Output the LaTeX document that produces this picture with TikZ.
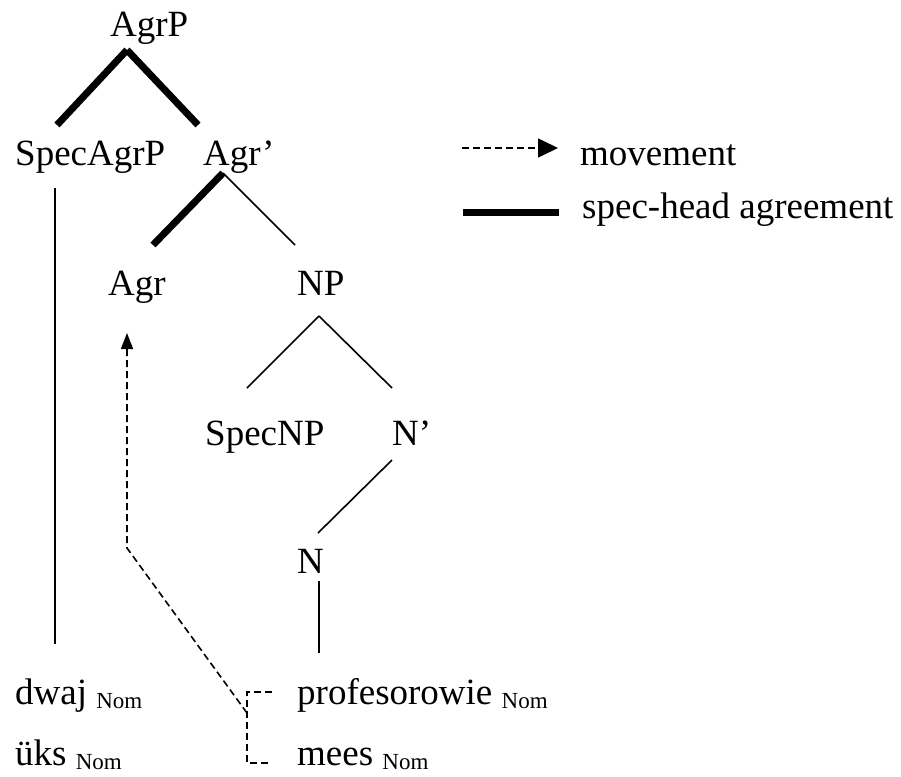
\documentclass[tikz,border=0pt]{standalone}
\usepackage{fontspec}
\setmainfont{Liberation Serif}
\usetikzlibrary{arrows.meta}
\newcommand{\Nomsub}{\raisebox{-4pt}{\fontsize{23}{25}\selectfont Nom}}

\begin{document}
\begin{tikzpicture}[x=1pt, y=-1pt, > = {Triangle[length=16pt, width=12pt]}]
        \tikzstyle{lbl}=[anchor=base west, inner sep=0pt, font=\fontsize{37}{40}\selectfont]
        \tikzstyle{branch}=[line width=1.6pt]
        \tikzstyle{agree}=[line width=7pt]
        \tikzstyle{move}=[line width=1.6pt, dash pattern=on 7pt off 4pt]

        \useasboundingbox (0,0) rectangle (901,776);

                    % Nodes
                    \node[lbl] (agrp) at (110,37) {AgrP};
                    \node[lbl] (specagrp) at (15,165) {SpecAgrP};
                    \node[lbl] (agrbar) at (203,165) {Agr’};
                    \node[lbl] (agr) at (108,295) {Agr};
                    \node[lbl] (np) at (297,295) {NP};
                    \node[lbl] (specnp) at (205,445) {SpecNP};
                    \node[lbl] (nbar) at (392,445) {N’};
                    \node[lbl] (n) at (297,573) {N};
                    \node[lbl] (dwaj) at (15,704) {dwaj \Nomsub};
                    \node[lbl] (uks) at (15,765) {üks \Nomsub};
                    \node[lbl] (prof) at (297,704) {profesorowie \Nomsub};
                    \node[lbl] (mees) at (297,765) {mees \Nomsub};

                    % Branch ends
                    \coordinate (agrp-top) at (127,50);
                    \coordinate (agrp-l) at (57,125);
                    \coordinate (agrp-r) at (198,125);
                    \coordinate (agrbar-top) at (223,173);
                    \coordinate (agrbar-l) at (153,245);
                    \coordinate (agrbar-r) at (295,245);
                    \coordinate (specagrp-bot) at (55,188);
                    \coordinate (dwaj-top) at (55,644);
                    \coordinate (np-top) at (319,316);
                    \coordinate (np-l) at (247,388);
                    \coordinate (np-r) at (392,388);
                    \coordinate (nbar-bot) at (392,460);
                    \coordinate (n-top) at (318,533);
                    \coordinate (n-bot) at (319,581);
                    \coordinate (prof-top) at (319,653);

                    % Edges
                    \draw[agree] (agrp-top) -- (agrp-l);
                    \draw[agree] (agrp-top) -- (agrp-r);
                    \draw[agree] (agrbar-top) -- (agrbar-l);
                    \draw[branch] (agrbar-top) -- (agrbar-r);
                    \draw[branch] (specagrp-bot) -- (dwaj-top);
                    \draw[branch] (np-top) -- (np-l);
                    \draw[branch] (np-top) -- (np-r);
                    \draw[branch] (nbar-bot) -- (n-top);
                    \draw[branch] (n-bot) -- (prof-top);

                    % Movement
                    \coordinate (tr-prof) at (272,692);
                    \coordinate (tr-top) at (247,692);
                    \coordinate (tr-mid) at (247,713);
                    \coordinate (tr-bot) at (247,763);
                    \coordinate (tr-mees) at (268,763);
                    \coordinate (tr-bend) at (127,548);
                    \coordinate (agr-bot) at (127,333);
                    \draw[move] (tr-prof) -- (tr-top) -- (tr-bot) -- (tr-mees);
                    \draw[move, ->] (tr-mid) -- (tr-bend) -- (agr-bot);

                    % Legend
                    \node[lbl] (movement) at (580,165) {movement};
                    \node[lbl] (agreement) at (582,218) {spec-head agreement};
                    \coordinate (leg-mv-a) at (462,148);
                    \coordinate (leg-mv-b) at (558,148);
                    \coordinate (leg-ag-a) at (463,212);
                    \coordinate (leg-ag-b) at (559,212);
                    \draw[move, -{Triangle[length=20pt, width=19pt]}] (leg-mv-a) -- (leg-mv-b);
                    \draw[agree] (leg-ag-a) -- (leg-ag-b);

            \end{tikzpicture}
\end{document}
